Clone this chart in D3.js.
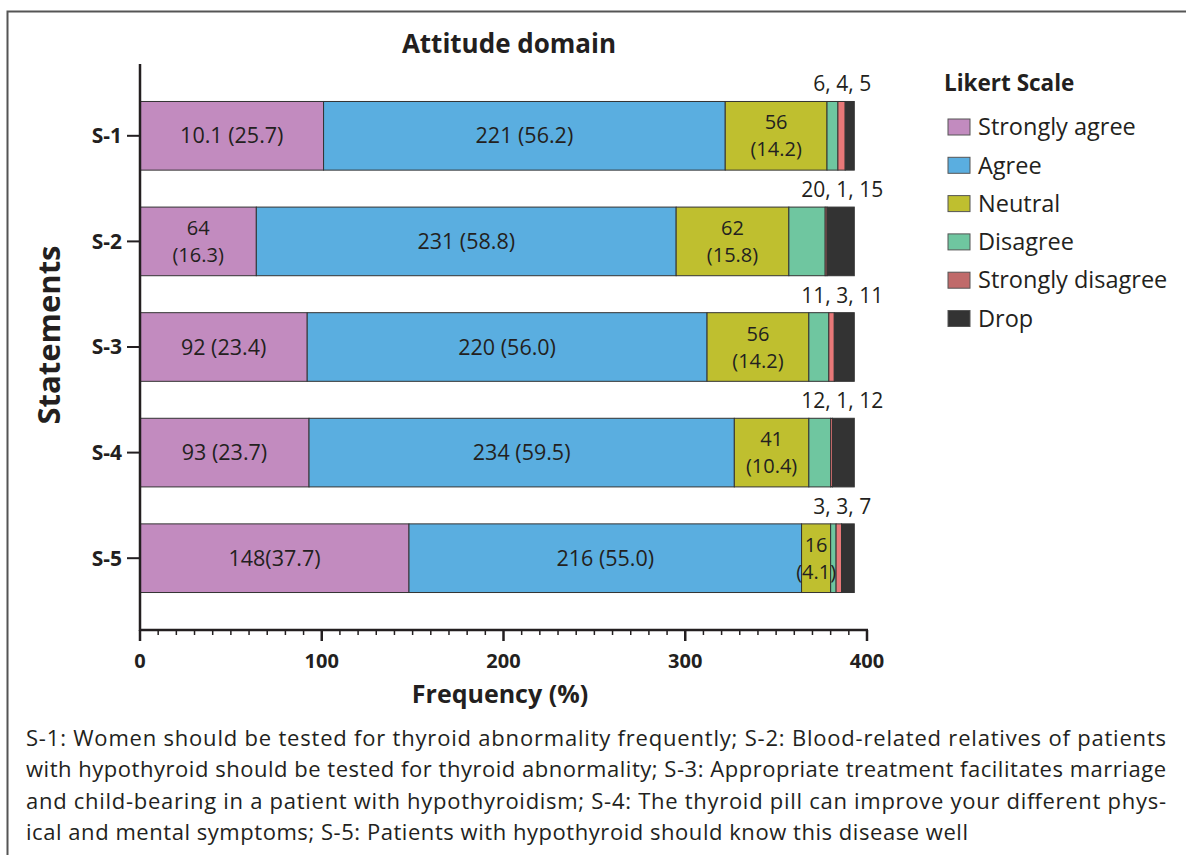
<!DOCTYPE html>
<html>
<head>
<meta charset="utf-8">
<script src="https://cdn.jsdelivr.net/npm/d3@7"></script>
<style>
  body { margin: 0; background: #fff; }
  svg text { font-family: "Open Sans", "Noto Sans", sans-serif; fill: #231f20; }
</style>
</head>
<body>
<div id="chart"></div>
<script>
const statements = ["S-1", "S-2", "S-3", "S-4", "S-5"]
const scaleNames = ["Strongly agree", "Agree", "Neutral", "Disagree", "Strongly disagree", "Drop"]
const strongAgree = [101, 64, 92, 93, 148]
const agree = [221, 231, 220, 234, 216]
const neutral = [56, 62, 56, 41, 16]
const disagree = [6, 20, 11, 12, 3]
const strongDisagree = [4, 1, 3, 1, 3]
const drop = [5, 15, 11, 12, 7]
const saLabels = [["10.1 (25.7)"], ["64", "(16.3)"], ["92 (23.4)"], ["93 (23.7)"], ["148(37.7)"]]
const agreeLabels = ["221 (56.2)", "231 (58.8)", "220 (56.0)", "234 (59.5)", "216 (55.0)"]
const neutralLabels = [["56", "(14.2)"], ["62", "(15.8)"], ["56", "(14.2)"], ["41", "(10.4)"], ["16", "(4.1)"]]
const smallLabels = ["6, 4, 5", "20, 1, 15", "11, 3, 11", "12, 1, 12", "3, 3, 7"]
const xTicks = [0, 100, 200, 300, 400]
const captionLines = [
    "S-1: Women should be tested for thyroid abnormality frequently; S-2: Blood-related relatives of patients",
    "with hypothyroid should be tested for thyroid abnormality; S-3: Appropriate treatment facilitates marriage",
    "and child-bearing in a patient with hypothyroidism; S-4: The thyroid pill can improve your different phys-",
    "ical and mental symptoms; S-5: Patients with hypothyroid should know this disease well"
]
const captionWidths = [1140, 1140, 1140, 942]
const colors = ["#c28bbf", "#5aaee0", "#bfbf2f", "#6fc6a0", "#e87878", "#333333"]
const legendColors = ["#c28bbf", "#5aaee0", "#bfbf2f", "#6fc6a0", "#c06a6a", "#333333"]

const width = 1186, height = 855

const svg = d3.select("#chart").append("svg")
    .attr("width", width)
    .attr("height", height)

// frame around the figure
svg.append("rect")
    .attr("x", 7.5).attr("y", 11.5)
    .attr("width", 1300).attr("height", 1000)
    .attr("fill", "none")
    .attr("stroke", "#555")
    .attr("stroke-width", 2)

const x = d3.scaleLinear().domain([0, 400]).range([140, 867])
const y = d3.scaleBand().domain(statements).range([64, 630])
    .paddingInner(0.35).paddingOuter(0.355)

const rows = statements.map((s, i) => {
    const vals = [strongAgree[i], agree[i], neutral[i], disagree[i], strongDisagree[i], drop[i]]
    let acc = 0
    const segs = vals.map((v, k) => {
        const seg = { key: k, x0: acc, x1: acc + v }
        acc += v
        return seg
    })
    return { name: s, i: i, segs: segs }
})

// bars
const g = svg.append("g")
rows.forEach(function (r) {
    g.selectAll(null)
        .data(r.segs)
        .enter()
        .append("rect")
        .attr("x", d => x(d.x0))
        .attr("y", y(r.name))
        .attr("width", d => x(d.x1) - x(d.x0))
        .attr("height", y.bandwidth())
        .attr("fill", d => colors[d.key])
        .attr("stroke", "#333")
        .attr("stroke-width", 1)
})

// labels inside bars
function multiLine(cx, cy, lines) {
    const lh = 27
    const fs = lines.length > 1 ? 20 : 21.5
    lines.forEach(function (ln, j) {
        svg.append("text")
            .attr("text-anchor", "middle")
            .style("font-size", fs + "px")
            .attr("x", cx)
            .attr("y", cy + (j - (lines.length - 1) / 2) * lh)
            .attr("dy", "0.35em")
            .text(ln)
    })
}
rows.forEach(function (r) {
    const cy = y(r.name) + y.bandwidth() / 2
    const s = r.segs
    multiLine((x(s[0].x0) + x(s[0].x1)) / 2, cy, saLabels[r.i])
    multiLine((x(s[1].x0) + x(s[1].x1)) / 2, cy, [agreeLabels[r.i]])
    multiLine((x(s[2].x0) + x(s[2].x1)) / 2, cy, neutralLabels[r.i])
    svg.append("text")
        .attr("x", x(s[5].x1) - 12)
        .attr("y", y(r.name) - 10)
        .attr("text-anchor", "middle")
        .style("font-size", "21px")
        .text(smallLabels[r.i])
})

// x axis
const xAxis = svg.append("g")
    .attr("transform", "translate(0,630)")
xAxis.append("line")
    .attr("x1", x(0) - 1).attr("x2", x(400) + 1)
    .attr("stroke", "#231f20").attr("stroke-width", 2.5)
xAxis.selectAll(".minor")
    .data(d3.range(0, 401, 10))
    .enter()
    .append("line")
    .attr("x1", d => x(d)).attr("x2", d => x(d))
    .attr("y1", 0)
    .attr("y2", d => d % 100 === 0 ? 11 : 5)
    .attr("stroke", "#231f20")
    .attr("stroke-width", d => d % 100 === 0 ? 2.5 : 1.5)
xAxis.selectAll(".lab")
    .data(xTicks)
    .enter()
    .append("text")
    .attr("x", d => x(d))
    .attr("y", 38)
    .attr("text-anchor", "middle")
    .style("font-size", "20px")
    .style("font-weight", "bold")
    .text(d => d)

// y axis
svg.append("line")
    .attr("x1", 140).attr("x2", 140)
    .attr("y1", 64).attr("y2", 631)
    .attr("stroke", "#231f20").attr("stroke-width", 2.5)
statements.forEach(function (s) {
    const cy = y(s) + y.bandwidth() / 2
    svg.append("line")
        .attr("x1", 127).attr("x2", 140)
        .attr("y1", cy).attr("y2", cy)
        .attr("stroke", "#231f20").attr("stroke-width", 2)
    svg.append("text")
        .attr("x", 122).attr("y", cy)
        .attr("dy", "0.35em")
        .attr("text-anchor", "end")
        .style("font-size", "21px")
        .style("font-weight", "bold")
        .text(s)
})

// titles
svg.append("text")
    .attr("x", 509).attr("y", 53)
    .attr("text-anchor", "middle")
    .style("font-size", "26px")
    .style("font-weight", "bold")
    .text("Attitude domain")
svg.append("text")
    .attr("x", 500).attr("y", 703)
    .attr("text-anchor", "middle")
    .style("font-size", "25px")
    .style("font-weight", "bold")
    .text("Frequency (%)")
svg.append("text")
    .attr("transform", "translate(60,335) rotate(-90)")
    .attr("text-anchor", "middle")
    .style("font-size", "31px")
    .style("font-weight", "bold")
    .text("Statements")

// legend
const legend = svg.append("g")
legend.append("text")
    .attr("x", 944).attr("y", 91)
    .style("font-size", "22.5px")
    .style("font-weight", "bold")
    .text("Likert Scale")
const item = legend.selectAll(".item")
    .data(scaleNames)
    .enter()
    .append("g")
    .attr("transform", (d, i) => `translate(0, ${127 + i * 38.3})`)
item.append("rect")
    .attr("x", 948).attr("y", -8)
    .attr("width", 22).attr("height", 16)
    .attr("fill", (d, i) => legendColors[i])
    .attr("stroke", "#555").attr("stroke-width", 1)
item.append("text")
    .attr("x", 978).attr("y", 0)
    .attr("dy", "0.35em")
    .style("font-size", "23.5px")
    .text(d => d)

// caption
svg.append("g").selectAll("text")
    .data(captionLines)
    .enter()
    .append("text")
    .attr("x", 26)
    .attr("y", (d, i) => 746 + i * 31.3)
    .style("font-size", "22px")
    .attr("textLength", (d, i) => captionWidths[i])
    .attr("lengthAdjust", "spacing")
    .text(d => d)
</script>
</body>
</html>
